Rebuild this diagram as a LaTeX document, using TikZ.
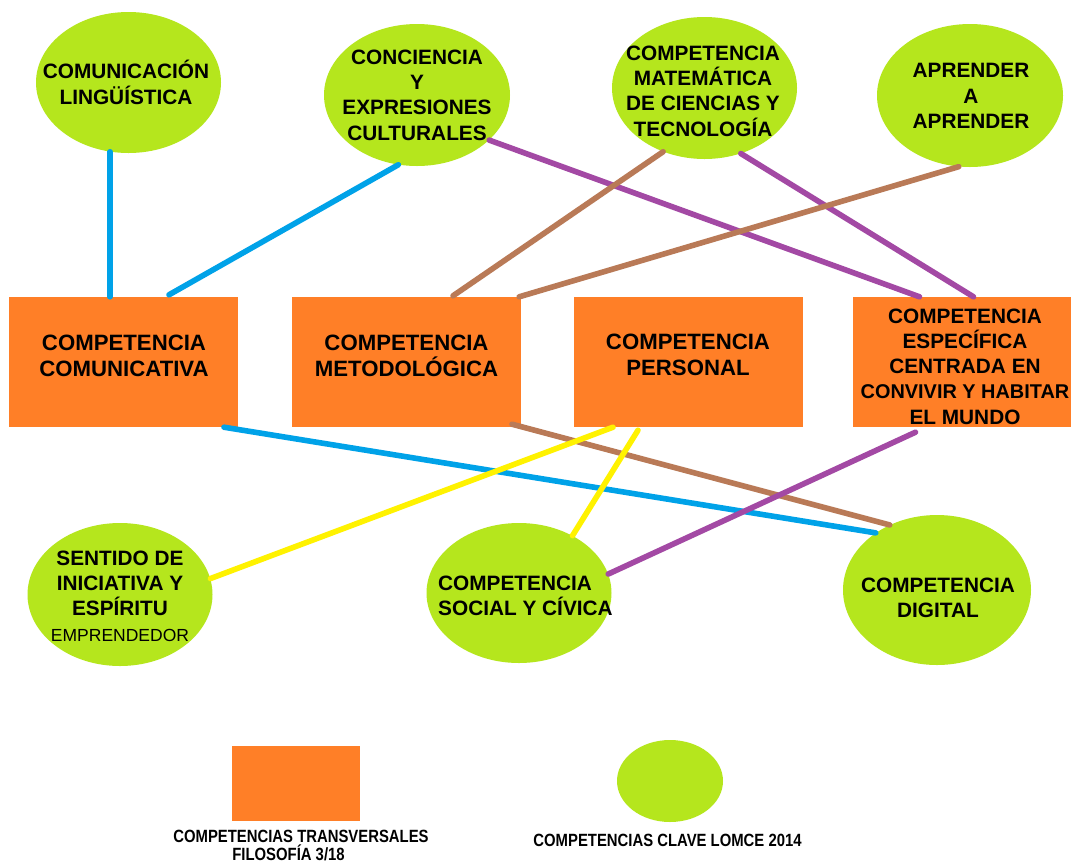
\documentclass[tikz,border=0pt]{standalone}
\usepackage{fontspec}
\setmainfont{Liberation Sans}
\newfontfamily\legfont[FakeStretch=0.84]{Liberation Sans}
\usetikzlibrary{shapes.geometric}
\definecolor{boxorange}{HTML}{FF7F27}
\definecolor{ellgreen}{HTML}{B5E61D}
\definecolor{lblue}{HTML}{00A2E8}
\definecolor{lpurple}{HTML}{A349A4}
\definecolor{lbrown}{HTML}{B97A57}
\definecolor{lyellow}{HTML}{FFF200}
\begin{document}
\begin{tikzpicture}[x=1pt,y=-1pt,
  ell/.style={ellipse, fill=ellgreen, draw=none, inner sep=0},
  boxr/.style={rectangle, fill=boxorange, draw=none, inner sep=0, minimum width=229, minimum height=130},
  etext/.style={inner sep=0, align=center, text=black, font=\bfseries\fontsize{20.8}{25.3}\selectfont},
  btext/.style={inner sep=0, align=center, text=black, font=\bfseries\fontsize{22.2}{26}\selectfont},
  legtext/.style={inner sep=0, anchor=base, text=black, font=\legfont\bfseries\fontsize{17.7}{18.5}\selectfont},
  conn/.style={line width=5.6pt, line cap=round},
]
\fill[white] (0,0) rectangle (1071,863);
\clip (0,0) rectangle (1071,863);

% top ellipses
\node[ell, minimum width=185, minimum height=141] (e1) at (128.5,82.5) {};
\node[ell, minimum width=186, minimum height=142] (e2) at (417,95) {};
\node[ell, minimum width=185, minimum height=142] (e3) at (704.5,88) {};
\node[ell, minimum width=186, minimum height=143] (e4) at (970,95.5) {};
\node[etext] (e1t) at (126,82.3) {COMUNICACIÓN\\LINGÜÍSTICA};
\node[etext] (e2t) at (417,95) {CONCIENCIA\\Y\\EXPRESIONES\\CULTURALES};
\node[etext] (e3t) at (703,91) {COMPETENCIA\\MATEMÁTICA\\DE CIENCIAS Y\\TECNOLOGÍA};
\node[etext] (e4t) at (971,96) {APRENDER\\A\\APRENDER};

% boxes
\node[boxr] (b1) at (123.5,362) {};
\node[boxr] (b2) at (406.5,362) {};
\node[boxr] (b3) at (688,362) {};
\node[boxr] (b4) at (967.5,362) {};
\node[btext] (b1t) at (124,356) {COMPETENCIA\\COMUNICATIVA};
\node[btext] (b2t) at (406.5,356) {COMPETENCIA\\METODOLÓGICA};
\node[btext] (b3t) at (688,355) {COMPETENCIA\\PERSONAL};
\node[etext] (b4t) at (965,366.5) {COMPETENCIA\\ESPECÍFICA\\CENTRADA EN\\{\fontsize{19.9}{25.3}\selectfont CONVIVIR Y HABITAR}\\EL MUNDO};

% bottom ellipses
\node[ell, minimum width=185, minimum height=143] (s) at (120,594.5) {};
\node[ell, minimum width=185, minimum height=140] (sc) at (519,593) {};
\node[ell, minimum width=188, minimum height=150] (d) at (937,590) {};
\node[etext] (st) at (120,596) {SENTIDO DE\\INICIATIVA Y\\ESPÍRITU\\{\mdseries\fontsize{17.5}{25.3}\selectfont EMPRENDEDOR}};
\node[etext, align=left, anchor=west] (sct) at (438,595.5) {COMPETENCIA\\SOCIAL Y CÍVICA};
\node[etext] (dt) at (938,598) {COMPETENCIA\\DIGITAL};

% connectors
\draw[conn, lblue] (e1.-105) -- (e1.-105 |- b1.north);
\draw[conn, lblue] (e2.-105) -- ([xshift=45.5pt,yshift=2pt]b1.north);
\draw[conn, lpurple] (e2.-32) -- ([xshift=-48pt]b4.north);
\draw[conn, lpurple] (e3.-61) -- ([xshift=6pt]b4.north);
\draw[conn, lbrown] (e3.-123) -- ([xshift=46.5pt,yshift=1pt]b2.north);
\draw[conn, lbrown] (e4.-99.5) -- ([xshift=-2pt]b2.north east);
\draw[conn, lblue] ([xshift=100.5pt]b1.south) -- (d.137.5);
\draw[conn, lbrown] ([xshift=105.5pt,yshift=3pt]b2.south) -- (d.126.6);
\draw[conn, lpurple] ([xshift=-52pt,yshift=-5pt]b4.south) -- (sc.12.5);
\draw[conn, lyellow] ([xshift=-75pt]b3.south) -- (s.10);
\draw[conn, lyellow] ([xshift=-50pt,yshift=-3pt]b3.south) -- (sc.47);

% legend
\node[boxr, minimum width=128, minimum height=75] (lb) at (296,783.5) {};
\node[ell, minimum width=106, minimum height=82] (lc) at (670,781) {};
\node[legtext] (lbt1) at (301,842.6) {COMPETENCIAS TRANSVERSALES};
\node[legtext] (lbt2) at (288.5,860.8) {FILOSOFÍA 3/18};
\node[legtext] (lct) at (667.5,846.4) {COMPETENCIAS CLAVE LOMCE 2014};
\end{tikzpicture}
\end{document}
